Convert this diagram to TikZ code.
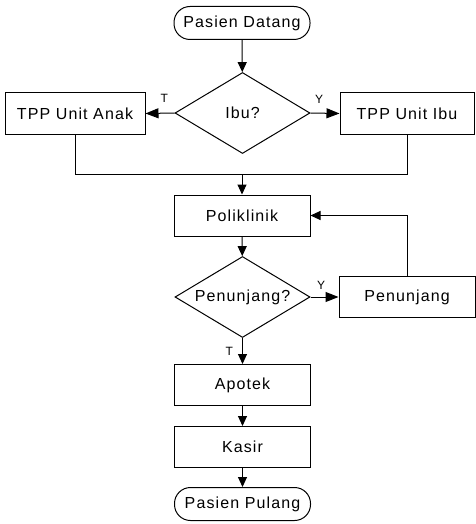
\documentclass[tikz,border=0pt]{standalone}
\usepackage{fontspec}
\setmainfont{Liberation Sans}
\newfontfamily\boxfont[LetterSpace=7]{Liberation Sans}
\newfontfamily\tagfont{Liberation Sans}
\usetikzlibrary{shapes.geometric,arrows.meta}
\begin{document}
\begin{tikzpicture}[x=1pt,y=-1pt,
  line width=1pt,
  every node/.style={font=\boxfont\fontsize{16}{19}\selectfont},
  procbox/.style={draw, rectangle, minimum width=136pt, minimum height=41pt, inner sep=0pt},
  termbox/.style={draw, rectangle, rounded corners=16pt, minimum width=136pt, minimum height=33pt, inner sep=0pt},
  decision/.style={draw, diamond, aspect=2, minimum width=135pt, minimum height=81pt, inner sep=0pt},
  flow/.style={-{Triangle[length=10pt,width=9pt]}},
  sideflow/.style={-{Triangle[length=13pt,width=10pt]}},
  tag/.style={font=\tagfont\fontsize{12}{14}\selectfont, inner sep=0pt}
]
\useasboundingbox (0,0) rectangle (475,524);

% process steps
\node[termbox]  (start)   at (242,23)    {Pasien Datang};
\node[decision] (ibu)     at (242.5,113) {Ibu?};
\node[procbox, minimum width=140pt] (anak) at (75,113.5) {TPP Unit Anak};
\node[procbox, minimum width=134pt] (tppibu) at (407,113.5) {TPP Unit Ibu};
\coordinate (merge) at (242,174);
\node[procbox]  (poli)    at (242,215.5) {Poliklinik};
\node[decision] (penq)    at (242.5,297) {Penunjang?};
\node[procbox]  (pen)     at (407,297)   {Penunjang};
\node[procbox]  (apotek)  at (242.5,385) {Apotek};
\node[procbox]  (kasir)   at (242.5,447) {Kasir};
\node[termbox]  (finish)  at (242.5,504) {Pasien Pulang};

% connectors
\draw[flow] (start) -- (ibu);
\draw[sideflow] (ibu.west) -- node[tag, above=10pt, pos=0.35] {T} (anak.east);
\draw[sideflow] (ibu.east) -- node[tag, above=9pt, pos=0.3] {Y} (tppibu.west);
\draw (anak.south) |- (merge);
\draw (tppibu.south) |- (merge);
\draw[flow] (merge) -- (poli.north);
\draw[flow] (poli) -- (penq);
\draw[sideflow] (penq.east) -- node[tag, above=7pt, pos=0.38] {Y} (pen.west);
\draw[flow] (pen.north) |- (poli.east);
\draw[flow] (penq.south) -- node[tag, left=9pt, pos=0.5] {T} (apotek.north);
\draw[flow] (apotek) -- (kasir);
\draw[flow] (kasir) -- (finish);
\end{tikzpicture}
\end{document}
